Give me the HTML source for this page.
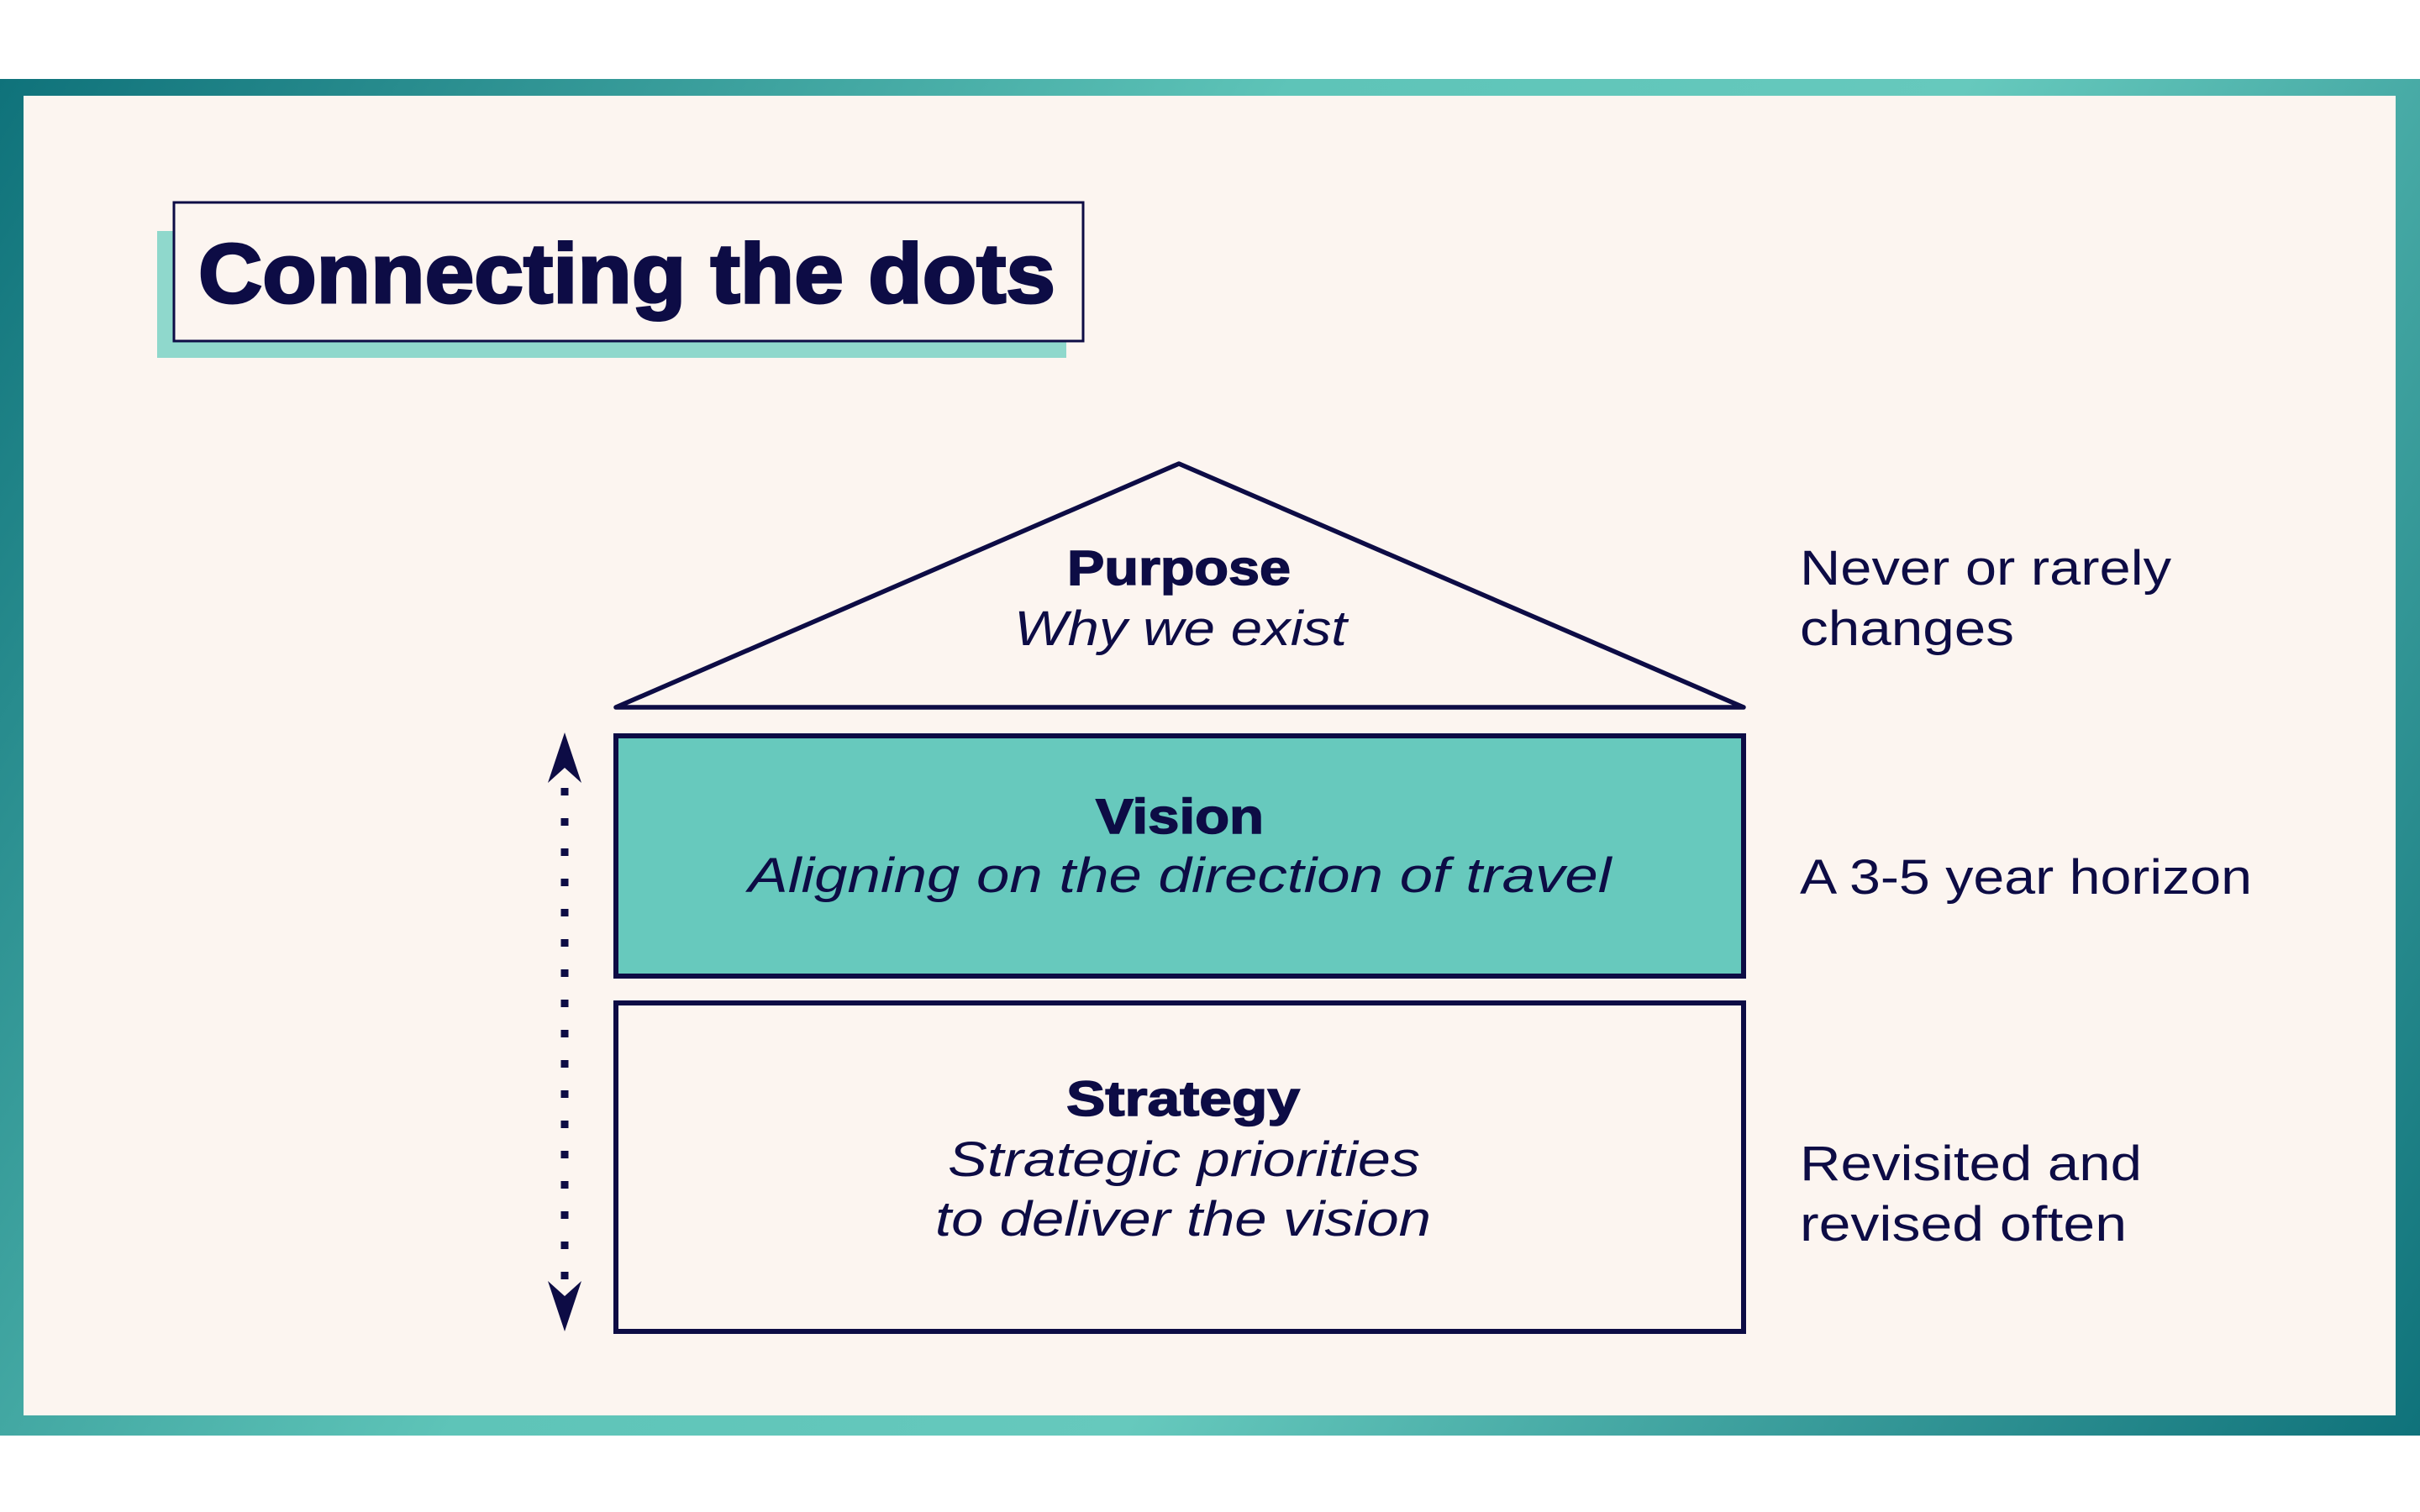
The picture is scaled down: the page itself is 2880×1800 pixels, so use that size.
<!DOCTYPE html>
<html><head><meta charset="utf-8"><style>
html,body{margin:0;padding:0;background:#fff}
svg{display:block}
text{font-family:"Liberation Sans",sans-serif;fill:#0d0c45}
</style></head><body>
<svg width="2880" height="1800" viewBox="0 0 2880 1800" xmlns="http://www.w3.org/2000/svg">
<defs>
<linearGradient id="fr" x1="0" y1="0" x2="2880" y2="1800" gradientUnits="userSpaceOnUse">
<stop offset="0" stop-color="#0c6f78"/>
<stop offset="0.4" stop-color="#5ec4b8"/>
<stop offset="0.6" stop-color="#66c9bd"/>
<stop offset="1" stop-color="#0c6f78"/>
</linearGradient>
</defs>
<rect x="0" y="0" width="2880" height="1800" fill="#fff"/>
<rect x="0" y="94" width="2880" height="1615" fill="url(#fr)"/>
<rect x="28" y="114" width="2823" height="1571" fill="#fcf5f0"/>
<!-- title -->
<rect x="187" y="275" width="1082" height="151" fill="#8fd8cc"/>
<rect x="207" y="241" width="1082" height="165" fill="#fcf5f0" stroke="#0d0c45" stroke-width="3"/>
<text x="236" y="360" font-size="100" font-weight="bold" stroke="#0d0c45" stroke-width="3" textLength="1020" lengthAdjust="spacingAndGlyphs">Connecting the dots</text>
<!-- shapes -->
<polygon points="1403,552 733,842 2075,842" fill="none" stroke="#0d0c45" stroke-width="5.5" stroke-linejoin="round"/>
<rect x="733" y="876" width="1342" height="286" fill="#67c9bd" stroke="#0d0c45" stroke-width="6"/>
<rect x="733" y="1194" width="1342" height="391" fill="#fcf5f0" stroke="#0d0c45" stroke-width="6"/>
<!-- arrow -->
<line x1="672" y1="938" x2="672" y2="1530" stroke="#0d0c45" stroke-width="9" stroke-dasharray="9 27"/>
<polygon points="672,872 692,932 672,914 652,932" fill="#0d0c45"/>
<polygon points="672,1585 692,1525 672,1543 652,1525" fill="#0d0c45"/>
<!-- labels -->
<g text-anchor="middle">
<text x="1403" y="696" font-size="58" font-weight="bold" stroke="#0d0c45" stroke-width="1.5" textLength="266" lengthAdjust="spacingAndGlyphs">Purpose</text>
<text x="1405" y="768" font-size="58" font-style="italic" textLength="396" lengthAdjust="spacingAndGlyphs">Why we exist</text>
<text x="1404" y="992" font-size="58" font-weight="bold" stroke="#0d0c45" stroke-width="1.5" textLength="200" lengthAdjust="spacingAndGlyphs">Vision</text>
<text x="1404" y="1062" font-size="58" font-style="italic" textLength="1027" lengthAdjust="spacingAndGlyphs">Aligning on the direction of travel</text>
<text x="1408" y="1328" font-size="58" font-weight="bold" stroke="#0d0c45" stroke-width="1.5" textLength="278" lengthAdjust="spacingAndGlyphs">Strategy</text>
<text x="1409" y="1400" font-size="58" font-style="italic" textLength="562" lengthAdjust="spacingAndGlyphs">Strategic priorities</text>
<text x="1408" y="1471" font-size="58" font-style="italic" textLength="590" lengthAdjust="spacingAndGlyphs">to deliver the vision</text>
</g>
<text x="2142" y="696" font-size="58" textLength="442" lengthAdjust="spacingAndGlyphs">Never or rarely</text>
<text x="2142" y="768" font-size="58" textLength="255" lengthAdjust="spacingAndGlyphs">changes</text>
<text x="2142" y="1064" font-size="58" textLength="538" lengthAdjust="spacingAndGlyphs">A 3-5 year horizon</text>
<text x="2142" y="1405" font-size="58" textLength="407" lengthAdjust="spacingAndGlyphs">Revisited and</text>
<text x="2142" y="1477" font-size="58" textLength="389" lengthAdjust="spacingAndGlyphs">revised often</text>
</svg>
</body></html>
